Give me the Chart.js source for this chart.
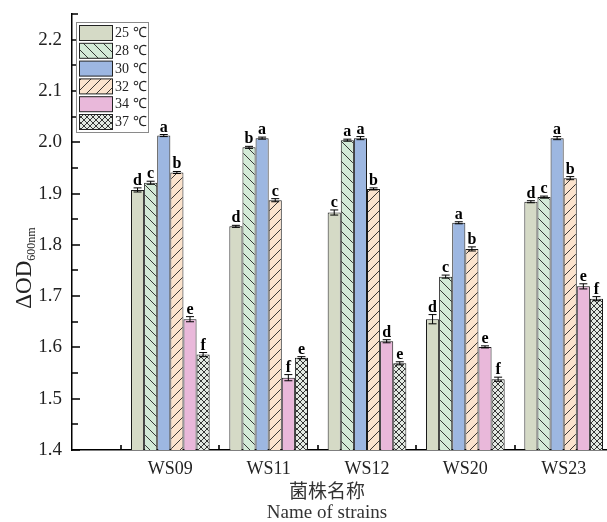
<!DOCTYPE html>
<html>
<head>
<meta charset="utf-8">
<script src="https://cdn.jsdelivr.net/npm/chart.js@4.4.0/dist/chart.umd.min.js"></script>
<style>
  html, body { margin: 0; padding: 0; background: #fff; overflow: hidden; }
  #wrap { width: 607px; height: 522px; overflow: hidden; }
</style>
</head>
<body>
<div id="wrap"><canvas id="odChart" width="662" height="522"></canvas></div>
<script>
// strains and temperatures
const strains = ['WS09', 'WS11', 'WS12', 'WS20', 'WS23'];
const tempLabels = ['25 ℃', '28 ℃', '30 ℃', '32 ℃', '34 ℃', '37 ℃'];

// ΔOD600nm means, one array per temperature
const od25 = [1.907, 1.836, 1.863, 1.655, 1.884];
const od28 = [1.921, 1.990, 2.004, 1.738, 1.893];
const od30 = [2.013, 2.008, 2.008, 1.843, 2.008];
const od32 = [1.941, 1.887, 1.909, 1.792, 1.930];
const od34 = [1.655, 1.541, 1.612, 1.601, 1.719];
const od37 = [1.586, 1.580, 1.569, 1.538, 1.695];

// error bars (±)
const err25 = [0.004, 0.002, 0.005, 0.009, 0.002];
const err28 = [0.003, 0.002, 0.002, 0.003, 0.002];
const err30 = [0.002, 0.002, 0.003, 0.002, 0.003];
const err32 = [0.002, 0.003, 0.002, 0.004, 0.003];
const err34 = [0.005, 0.006, 0.003, 0.002, 0.005];
const err37 = [0.004, 0.002, 0.003, 0.004, 0.004];

// significance letters
const sig25 = ['d', 'd', 'c', 'd', 'd'];
const sig28 = ['c', 'b', 'a', 'c', 'c'];
const sig30 = ['a', 'a', 'a', 'a', 'a'];
const sig32 = ['b', 'c', 'b', 'b', 'b'];
const sig34 = ['e', 'f', 'd', 'e', 'e'];
const sig37 = ['f', 'e', 'e', 'f', 'f'];

const yTicks = [1.4, 1.5, 1.6, 1.7, 1.8, 1.9, 2.0, 2.1, 2.2];

const canvas = document.getElementById('odChart');
const ctx = canvas.getContext('2d');

function makeHatch(bg, kind, size) {
    const c = document.createElement('canvas');
    c.width = size;
    c.height = size;
    const g = c.getContext('2d');
    g.fillStyle = bg;
    g.fillRect(0, 0, size, size);
    g.strokeStyle = '#222';
    g.lineWidth = 0.9;
    g.beginPath();
    if (kind === 'back' || kind === 'cross') {
        g.moveTo(-1, -1); g.lineTo(size + 1, size + 1);
        g.moveTo(-1, size - 1); g.lineTo(1, size + 1);
        g.moveTo(size - 1, -1); g.lineTo(size + 1, 1);
    }
    if (kind === 'fwd' || kind === 'cross') {
        g.moveTo(-1, size + 1); g.lineTo(size + 1, -1);
        g.moveTo(-1, 1); g.lineTo(1, -1);
        g.moveTo(size - 1, size + 1); g.lineTo(size + 1, size - 1);
    }
    g.stroke();
    return ctx.createPattern(c, 'repeat');
}

const fills = [
    '#d5dac6',
    makeHatch('#d3ead7', 'back', 10),
    '#9db7e1',
    makeHatch('#fbe3cd', 'fwd', 10),
    '#e9b8da',
    makeHatch('#e2e9e2', 'cross', 6)
];

const series = [od25, od28, od30, od32, od34, od37];
const errors = [err25, err28, err30, err32, err34, err37];
const letters = [sig25, sig28, sig30, sig32, sig34, sig37];

// empty slots at both ends so the axis starts half a group left of WS09
const xLabels = [''].concat(strains, ['']);

const serif = '"Liberation Serif", "Times New Roman", serif';

const decorPlugin = {
    id: 'decor',
    afterDatasetsDraw(chart) {
        const c = chart.ctx;
        const y = chart.scales.y;
        // error bars and letters
        c.save();
        c.strokeStyle = '#000';
        c.lineWidth = 1;
        c.fillStyle = '#000';
        c.font = 'bold 16px ' + serif;
        c.textAlign = 'center';
        c.textBaseline = 'alphabetic';
        chart.data.datasets.forEach((ds, di) => {
            const meta = chart.getDatasetMeta(di);
            strains.forEach((s, i) => {
                const bar = meta.data[i + 1];
                const v = series[di][i];
                const e = errors[di][i];
                const yTop = y.getPixelForValue(v + e);
                const yBot = y.getPixelForValue(v - e);
                c.beginPath();
                c.moveTo(bar.x, yTop); c.lineTo(bar.x, yBot);
                c.moveTo(bar.x - 4, yTop); c.lineTo(bar.x + 4, yTop);
                c.moveTo(bar.x - 4, yBot); c.lineTo(bar.x + 4, yBot);
                c.stroke();
                c.fillText(letters[di][i], bar.x, yTop - 3);
            });
        });
        c.restore();
    },
    afterDraw(chart) {
        const c = chart.ctx;
        const x = chart.scales.x;
        const y = chart.scales.y;
        const area = chart.chartArea;
        c.save();

        // inward axis ticks, major and minor
        c.strokeStyle = '#000';
        c.lineWidth = 1.6;
        c.beginPath();
        yTicks.forEach(v => {
            const py = Math.round(y.getPixelForValue(v));
            c.moveTo(area.left, py);
            c.lineTo(area.left + 8, py);
            const pm = Math.round(y.getPixelForValue(v + 0.05));
            c.moveTo(area.left, pm);
            c.lineTo(area.left + 6, pm);
        });
        const step = x.getPixelForValue(1) - x.getPixelForValue(0);
        strains.forEach((s, i) => {
            const px = Math.round(x.getPixelForValue(i) + step / 2);
            c.moveTo(px, area.bottom);
            c.lineTo(px, area.bottom - 5);
        });
        c.stroke();

        // legend
        c.lineWidth = 1;
        c.strokeStyle = '#8a8a8a';
        c.fillStyle = '#fff';
        c.fillRect(76.5, 22.5, 72, 110);
        c.strokeRect(76.5, 22.5, 72, 110);
        c.font = '14px ' + serif;
        c.textAlign = 'left';
        c.textBaseline = 'middle';
        chart.data.datasets.forEach((ds, di) => {
            const top = 25.5 + di * 17.8;
            c.fillStyle = ds.backgroundColor;
            c.fillRect(79.5, top, 33, 15);
            c.strokeStyle = '#222';
            c.strokeRect(79.5, top, 33, 15);
            c.fillStyle = '#222';
            c.fillText(ds.label, 115, top + 8);
        });

        // y axis title with subscript
        c.translate(23, 268);
        c.rotate(-Math.PI / 2);
        c.font = '23px ' + serif;
        const main = 'ΔOD';
        const w1 = c.measureText(main).width;
        c.font = '12px ' + serif;
        const sub = '600nm';
        const w2 = c.measureText(sub).width;
        const start = -(w1 + w2) / 2;
        c.fillStyle = '#222';
        c.textBaseline = 'alphabetic';
        c.font = '23px ' + serif;
        c.fillText(main, start, 8);
        c.font = '12px ' + serif;
        c.fillText(sub, start + w1, 12);
        c.setTransform(1, 0, 0, 1, 0, 0);

        // x axis titles
        c.textAlign = 'center';
        c.textBaseline = 'middle';
        c.fillStyle = '#333';
        c.font = '19px "Noto Sans CJK SC", sans-serif';
        c.fillText('菌株名称', 327, 491);
        c.font = '19px ' + serif;
        c.fillText('Name of strains', 327, 513);
        c.restore();
    }
};

const chart = new Chart(ctx, {
    type: 'bar',
    data: {
        labels: xLabels,
        datasets: series.map((arr, di) => ({
            label: tempLabels[di],
            data: [null].concat(arr, [null]),
            backgroundColor: fills[di],
            borderColor: '#1a1a1a',
            borderWidth: 1,
            borderSkipped: false,
            barPercentage: 1.0,
            categoryPercentage: 0.8
        }))
    },
    options: {
        responsive: false,
        animation: false,
        layout: { padding: { top: 14, right: 0, left: 0, bottom: 0 } },
        plugins: {
            legend: { display: false },
            tooltip: { enabled: false }
        },
        scales: {
            x: {
                offset: false,
                grid: { display: false, drawTicks: false },
                border: { display: true, color: '#000', width: 1.5 },
                ticks: {
                    color: '#222',
                    font: { family: serif, size: 18 },
                    padding: 8,
                    autoSkip: false,
                    maxRotation: 0
                },
                afterFit(scale) {
                    scale.height = 72;
                    scale.paddingLeft = 0;
                    scale.paddingRight = 0;
                }
            },
            y: {
                min: 1.4,
                max: 2.25,
                grid: { display: false, drawTicks: false },
                border: { display: true, color: '#000', width: 1.5 },
                ticks: {
                    color: '#222',
                    font: { family: serif, size: 19 },
                    padding: 10,
                    callback: v => v.toFixed(1)
                },
                afterBuildTicks(scale) {
                    scale.ticks = yTicks.map(v => ({ value: v }));
                },
                afterFit(scale) {
                    scale.width = 72;
                    scale.paddingTop = 0;
                    scale.paddingBottom = 0;
                }
            }
        }
    },
    plugins: [decorPlugin]
});
</script>
</body>
</html>
